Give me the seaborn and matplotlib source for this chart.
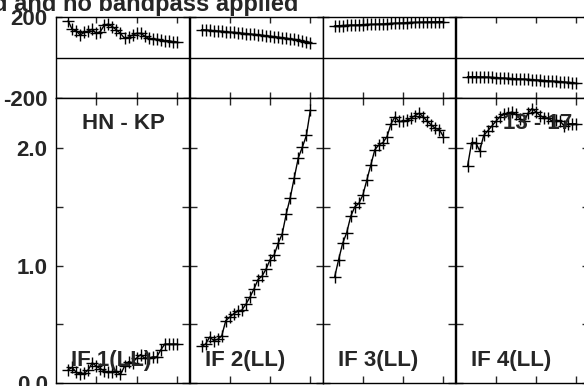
import numpy as np
import pandas as pd
import matplotlib
matplotlib.use('Agg')
import matplotlib.pyplot as plt
import seaborn as sns

# DATA (channels 3..30)
channels = list(range(3, 31))
if_labels = ['IF 1(LL)', 'IF 2(LL)', 'IF 3(LL)', 'IF 4(LL)']

phase_if1 = [182, 139, 132, 111, 124, 131, 139, 119, 128, 160, 165, 152, 136, 119,
             95, 100, 111, 119, 119, 106, 95, 90, 90, 86, 83, 83, 78, 77]
phase_if2 = [137, 136, 134, 132, 131, 129, 127, 125, 124, 122, 120, 118, 116, 114,
             112, 110, 107, 105, 103, 100, 98, 95, 92, 89, 85, 82, 78, 74]
phase_if3 = [156, 157, 158, 159, 160, 160, 161, 162, 163, 163, 164, 165, 166, 167,
             168, 169, 170, 171, 172, 173, 173, 174, 175, 175, 176, 176, 177, 177]
phase_if4 = [-95, -95, -95, -96, -96, -97, -98, -100, -101, -102, -103, -104, -105, -106,
             -107, -108, -110, -111, -112, -114, -115, -117, -118, -120, -121, -123, -125, -127]

amp_if1 = [0.11, 0.13, 0.09, 0.07, 0.08, 0.11, 0.17, 0.14, 0.12, 0.10, 0.09, 0.09, 0.10, 0.07,
           0.14, 0.18, 0.17, 0.21, 0.24, 0.21, 0.21, 0.22, 0.22, 0.28, 0.33, 0.33, 0.33, 0.33]
amp_if2 = [0.31, 0.33, 0.39, 0.36, 0.37, 0.40, 0.53, 0.56, 0.59, 0.61, 0.62, 0.67, 0.73, 0.80,
           0.88, 0.91, 0.97, 1.05, 1.09, 1.19, 1.27, 1.44, 1.58, 1.75, 1.92, 2.01, 2.11, 2.33]
amp_if3 = [0.90, 1.05, 1.19, 1.28, 1.42, 1.50, 1.53, 1.60, 1.73, 1.86, 1.99, 2.03, 2.05, 2.10,
           2.21, 2.27, 2.23, 2.23, 2.24, 2.26, 2.28, 2.30, 2.27, 2.23, 2.20, 2.17, 2.16, 2.10]
amp_if4 = [1.85, 2.05, 2.05, 1.98, 2.11, 2.15, 2.19, 2.23, 2.27, 2.29, 2.30, 2.31, 2.29, 2.25,
           2.23, 2.30, 2.34, 2.31, 2.28, 2.26, 2.26, 2.23, 2.24, 2.23, 2.19, 2.21, 2.21, 2.21]

phases = [phase_if1, phase_if2, phase_if3, phase_if4]
amps = [amp_if1, amp_if2, amp_if3, amp_if4]

# STYLE
sns.set_style('white')
plt.rcParams['font.family'] = ['Liberation Sans', 'DejaVu Sans']
plt.rcParams['font.weight'] = 'bold'
plt.rcParams['font.size'] = 16

W, H = 584, 386
fig = plt.figure(figsize=(W / 100, H / 100), dpi=100)

lefts = [56, 189.5, 322.5, 455.5]
pw = 133
line_kw = dict(color='k', linewidth=1, marker='+', markersize=9,
               markeredgecolor='k', markeredgewidth=1)

for i in range(4):
    # phase panel (top)
    axp = fig.add_axes([lefts[i] / W, (H - 98) / H, pw / W, 81 / H])
    sns.lineplot(x=channels, y=phases[i], ax=axp, **line_kw)
    axp.axhline(0, color='k', lw=1)
    axp.set_xlim(0, 33)
    axp.set_ylim(-200, 200)
    axp.set_xticks([10, 20, 30])
    axp.set_xticklabels([])
    axp.set_yticks([-200, 200])
    if i == 0:
        axp.set_yticklabels(['-200', '200'])
    else:
        axp.set_yticklabels([])
    axp.tick_params(direction='in', length=4, width=1, top=True, right=True,
                    left=True, bottom=True, pad=6)

    # amplitude panel (bottom)
    axa = fig.add_axes([lefts[i] / W, (H - 382.7) / H, pw / W, 284.7 / H])
    sns.lineplot(x=channels, y=amps[i], ax=axa, **line_kw)
    axa.set_xlim(0, 33)
    axa.set_ylim(0, 2.43)
    axa.set_xticks([10, 20, 30])
    axa.set_xticklabels([])
    axa.set_yticks([0, 0.5, 1.0, 1.5, 2.0])
    if i == 0:
        axa.set_yticklabels(['0.0', '', '1.0', '', '2.0'])
    else:
        axa.set_yticklabels([])
    axa.tick_params(direction='in', length=5, width=1, top=True, right=True,
                    left=True, bottom=True, pad=6)

    axa.text(0.113, 0.0587, if_labels[i], transform=axa.transAxes,
             ha='left', va='baseline', fontsize=16, fontweight='bold')
    if i == 0:
        axa.text(0.504, 0.910, 'HN - KP', transform=axa.transAxes,
                 ha='center', va='center', fontsize=16, fontweight='bold')
    if i == 3:
        axa.text(0.617, 0.910, '13 - 17', transform=axa.transAxes,
                 ha='center', va='center', fontsize=16, fontweight='bold')

    for ax in (axp, axa):
        ax.set_xlabel('')
        ax.set_ylabel('')
        for s in ax.spines.values():
            s.set_color('k')
            s.set_linewidth(1)

# title, cut off at the top edge as in the reference
fig.text(298 / W, (H - 11) / H, 'd and no bandpass applied', ha='right',
         va='baseline', fontsize=17, fontweight='bold')

fig.savefig('out.png', dpi=100)
